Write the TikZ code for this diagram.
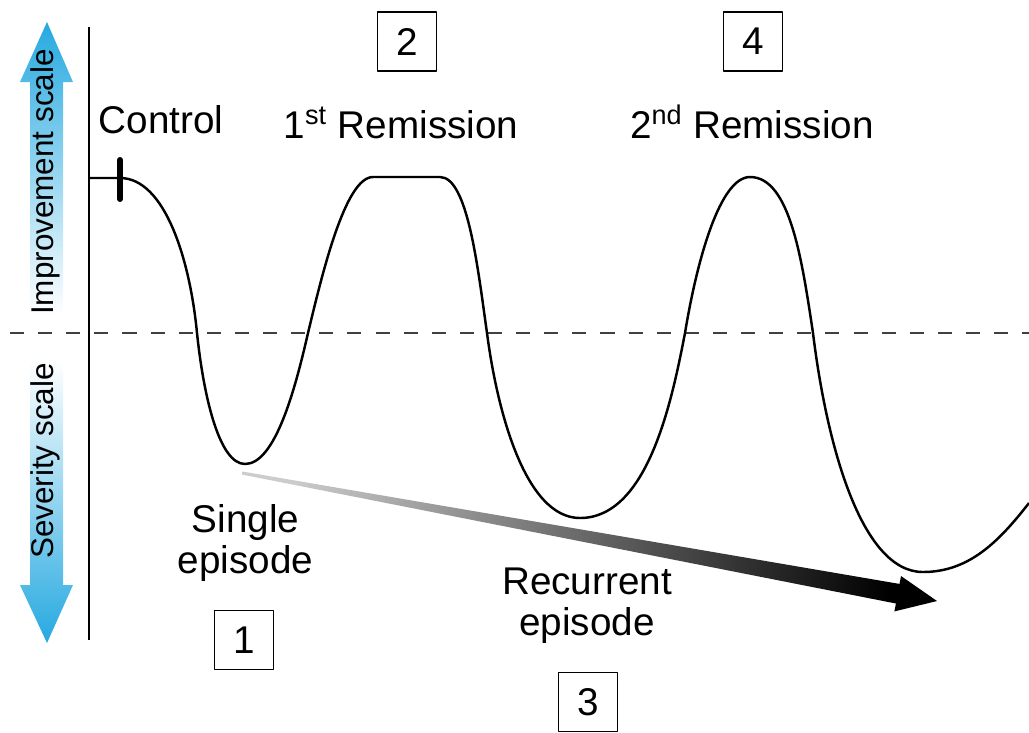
\documentclass[tikz,border=0pt]{standalone}
\usepackage{fontspec}
\setmainfont{Liberation Sans}
\definecolor{scaleblue}{RGB}{38,169,224}
\tikzset{pixgrid/.style={
  x=0.2mm,y=-0.2mm,
  line join=round
},
numbox/.style={draw,line width=1.1pt,minimum size=11.8mm,inner sep=0pt,font=\fontsize{22}{26}\selectfont},
lbl/.style={font=\fontsize{22}{23.3}\selectfont,align=center,inner sep=0pt},
scalelbl/.style={font=\fontsize{17.9}{20}\selectfont,rotate=90,anchor=base,inner sep=0pt}
}

\begin{document}
\begin{tikzpicture}[pixgrid]
  \useasboundingbox (0,0) rectangle (1029,732);

  % scale arrows
  \shade[top color=scaleblue,bottom color=white]
    (30,315)--(30,82)--(20,82)--(47,22)--(73,82)--(63,82)--(63,315)--cycle;
  \shade[top color=white,bottom color=scaleblue]
    (30,360)--(30,585)--(20,585)--(47,643)--(73,585)--(63,585)--(63,360)--cycle;
  \node[scalelbl] (improve) at (53,182) {Improvement scale};
  \node[scalelbl] (severe) at (53,461) {Severity scale};

  % axis and threshold
  \draw[line width=0.9pt] (89,27)--(89,640);
  \draw[line width=0.7pt,black!75,dash pattern=on 8 off 8] (10,333)--(1029,333);

  % trend arrow
  \shade[left color=black!20,right color=black,shading angle=79.6]
    (242.3,471.5)--(899.5,583.9)--(901.0,576.0)--(937,601)
    --(894.4,611.4)--(895.9,603.5)--(241.7,474.5)--cycle;

  % course of illness
  \draw[line width=1.4pt] (89,178)--(120,178)
    .. controls (165,178) and (190,260) .. (197,333)
    .. controls (204,400) and (220,464) .. (245,464)
    .. controls (275,464) and (295,390) .. (308,333)
    .. controls (322,275) and (345,177) .. (373,177)
    -- (440,177)
    .. controls (468,177) and (478,270) .. (487,333)
    .. controls (497,410) and (525,518) .. (580,518)
    .. controls (648,518) and (672,400) .. (685,333)
    .. controls (697,260) and (720,177) .. (750,177)
    .. controls (790,177) and (802,260) .. (813,333)
    .. controls (826,440) and (860,572) .. (923,572)
    .. controls (970,572) and (1000,540) .. (1029,503);
  \draw[line width=3.4pt,line cap=round] (120,160)--(120,199);

  % labels
  \node[lbl,anchor=base] (control) at (161,133) {Control};
  \node[lbl,anchor=base] (remit1) at (401,138) {1\textsuperscript{st} Remission};
  \node[lbl,anchor=base] (remit2) at (752,138) {2\textsuperscript{nd} Remission};
  \node[lbl] (single) at (245.5,543) {Single\\episode};
  \node[lbl] (recur) at (587,606) {Recurrent\\episode};

  \node[numbox] (n1) at (244,640) {1};
  \node[numbox] (n2) at (407,41.5) {2};
  \node[numbox] (n3) at (588,702) {3};
  \node[numbox] (n4) at (753,41.5) {4};
\end{tikzpicture}
\end{document}
